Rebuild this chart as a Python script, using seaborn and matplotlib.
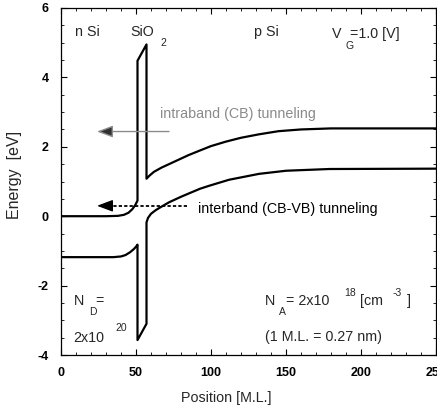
import matplotlib
matplotlib.use("Agg")
import matplotlib.pyplot as plt
import seaborn as sns
import numpy as np

# ---- data ----
cb_pos = [0, 30, 38, 42, 45, 47.5, 49.5, 51, 51, 57, 57, 59, 62, 67, 72, 77, 85, 93, 100, 110, 120, 132, 145, 160, 180, 250]
cb_E   = [0, 0, 0.01, 0.04, 0.1, 0.2, 0.32, 0.45, 4.48, 4.95, 1.08, 1.17, 1.28, 1.4, 1.5, 1.6, 1.76, 1.9, 2.02, 2.15, 2.26, 2.36, 2.45, 2.5, 2.53, 2.53]

vb_pos = [0, 35, 40, 43, 46, 48.5, 50, 51, 51, 57, 57, 58, 60, 63, 66, 72, 80, 92.6, 99, 112, 132, 150, 179, 250]
vb_E   = [-1.18, -1.18, -1.16, -1.12, -1.04, -0.95, -0.88, -0.82, -3.57, -3.1, -0.18, -0.05, 0.07, 0.17, 0.25, 0.4, 0.56, 0.79, 0.88, 1.05, 1.22, 1.31, 1.36, 1.37]

intra_arrow = {"x_from": 72, "x_to": 24, "E": 2.44}
inter_arrow = {"x_from": 84, "x_to": 24, "E": 0.30}

x_ticks = [0, 50, 100, 150, 200, 250]
y_ticks = [-4, -2, 0, 2, 4, 6]

sns.set_theme(style="ticks")
plt.rcParams['font.family'] = ['Liberation Sans', 'DejaVu Sans']

fig = plt.figure(figsize=(4.37, 4.09), dpi=100)
ax = fig.add_axes([61/437, 54/409, 375/437, 347/409])

sns.lineplot(x=cb_pos, y=cb_E, sort=False, estimator=None, ax=ax, color='black', lw=1.6)
sns.lineplot(x=vb_pos, y=vb_E, sort=False, estimator=None, ax=ax, color='black', lw=1.6)

# intraband arrow (gray)
ax.annotate("", xy=(intra_arrow["x_to"], intra_arrow["E"]),
            xytext=(intra_arrow["x_from"], intra_arrow["E"]),
            arrowprops=dict(arrowstyle="-|>,head_length=0.8,head_width=0.3",
                            edgecolor="#8c8c8c", facecolor="#303030", lw=1.0,
                            shrinkA=0, shrinkB=0))
# interband arrow (dashed black)
ax.plot([inter_arrow["x_from"], inter_arrow["x_to"] + 8], [inter_arrow["E"]] * 2,
        color='black', lw=1.3, dashes=(1.8, 1.2))
ax.annotate("", xy=(inter_arrow["x_to"], inter_arrow["E"]),
            xytext=(inter_arrow["x_to"] + 9, inter_arrow["E"]),
            arrowprops=dict(arrowstyle="-|>,head_length=0.8,head_width=0.3",
                            color="black", lw=1.0, shrinkA=0, shrinkB=0))

fs = 10.3
sfs = 7.5
ax.text(66, 2.95, "intraband (CB) tunneling", color="#8a8a8a", fontsize=fs, va='center')
ax.text(91, 0.22, "interband (CB-VB) tunneling", color="black", fontsize=fs, va='center')

ax.text(9.5, 5.3, "n Si", fontsize=fs, va='center')
ax.text(46, 5.3, "SiO", fontsize=fs, va='center')
ax.text(66, 5.0, "2", fontsize=sfs, va='center')
ax.text(129, 5.3, "p Si", fontsize=fs, va='center')
ax.text(180.5, 5.25, "V", fontsize=fs, va='center')
ax.text(189.5, 4.9, "G", fontsize=sfs, va='center')
ax.text(193, 5.25, "=1.0 [V]", fontsize=fs, va='center')

ax.text(8.5, -2.45, "N", fontsize=fs, va='center')
ax.text(18.5, -2.75, "D", fontsize=sfs, va='center')
ax.text(23, -2.45, "=", fontsize=fs, va='center')
ax.text(8.5, -3.5, "2x10", fontsize=fs, va='center')
ax.text(36.5, -3.22, "20", fontsize=sfs, va='center')

ax.text(136, -2.45, "N", fontsize=fs, va='center')
ax.text(145.5, -2.75, "A", fontsize=sfs, va='center')
ax.text(150, -2.45, "= 2x10", fontsize=fs, va='center')
ax.text(189, -2.2, "18", fontsize=sfs, va='center')
ax.text(199.5, -2.45, "[cm", fontsize=fs, va='center')
ax.text(221, -2.2, "-3", fontsize=sfs, va='center')
ax.text(230.5, -2.45, "]", fontsize=fs, va='center')
ax.text(136, -3.48, "(1 M.L. = 0.27 nm)", fontsize=fs, va='center')

ax.set_xlim(0, 250)
ax.set_ylim(-4, 6)
ax.set_xticks(x_ticks)
ax.set_yticks(y_ticks)
ax.set_xticklabels([str(v) for v in x_ticks], fontsize=9, fontweight='bold')
ax.set_yticklabels([str(v) for v in y_ticks], fontsize=9, fontweight='bold')
ax.xaxis.set_minor_locator(matplotlib.ticker.MultipleLocator(10))
ax.yaxis.set_minor_locator(matplotlib.ticker.MultipleLocator(0.5))
ax.tick_params(which='both', direction='in', top=True, right=True, colors='black')
ax.tick_params(which='major', length=4, width=0.8)
ax.tick_params(axis='x', which='major', pad=9)
ax.tick_params(axis='y', which='major', pad=9)
ax.tick_params(which='minor', length=2, width=0.6)
for s in ax.spines.values():
    s.set_visible(True)
    s.set_linewidth(0.9)
    s.set_color('black')

ax.set_xlabel("Position [M.L.]", fontsize=10.3)
ax.set_ylabel("Energy  [eV]", fontsize=11.5)
ax.xaxis.set_label_coords(0.44, -0.105)
ax.yaxis.set_label_coords(-0.105, 0.52)

fig.savefig("out.png", dpi=100)
